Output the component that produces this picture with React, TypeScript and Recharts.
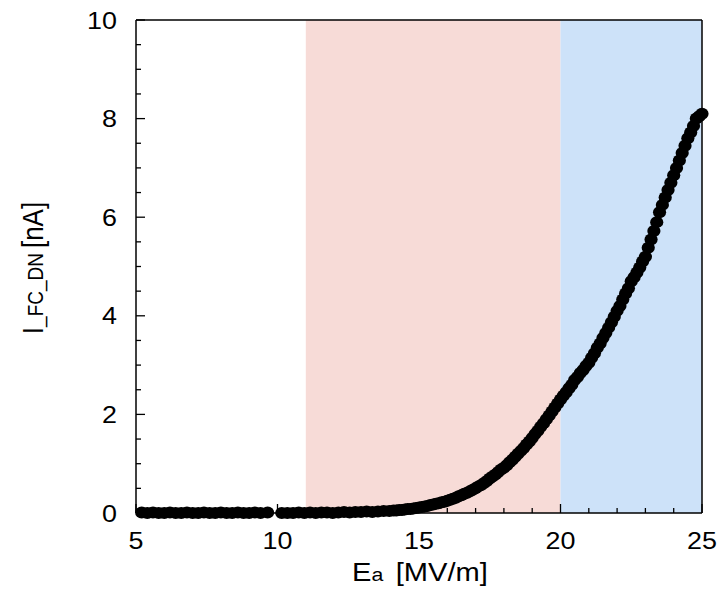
import { ScatterChart, Scatter, XAxis, YAxis, ReferenceArea } from "recharts";

// measured points, field strength in MV/m and current in nA
const LOW_FIELD = [
  5.2, 5.4, 5.6, 5.8, 6.0, 6.2, 6.4, 6.6, 6.8, 7.0, 7.2, 7.4, 7.6, 7.8, 8.0, 8.2, 8.4, 8.6, 8.8, 9.0, 9.2, 9.4, 9.65,
  10.15, 10.35, 10.55, 10.75, 10.95, 11.15, 11.35, 11.55, 11.75, 11.95, 12.15, 12.35, 12.55, 12.75, 12.95, 13.15,
  13.35, 13.55, 13.75, 13.95,
];
const LOW_CURRENT = [
  0.01, 0, 0.01, 0, 0, 0.01, 0, 0, 0.01, 0, 0, 0.01, 0, 0, 0.01, 0, 0, 0.01, 0, 0, 0.01, 0, 0.01,
  0, 0, 0, 0.01, 0, 0.01, 0, 0.01, 0.01, 0, 0.01, 0.02, 0.01, 0.02, 0.02, 0.03, 0.02, 0.03, 0.04, 0.04,
];
const HIGH_FIELD = [
  14.1, 14.2, 14.3, 14.4, 14.5, 14.6, 14.7, 14.8, 14.9, 15.0,
  15.1, 15.2, 15.3, 15.4, 15.5, 15.6, 15.7, 15.8, 15.9, 16.0,
  16.1, 16.2, 16.3, 16.4, 16.5, 16.6, 16.7, 16.8, 16.9, 17.0,
  17.1, 17.2, 17.3, 17.4, 17.5, 17.6, 17.7, 17.8, 17.9, 18.0,
  18.1, 18.2, 18.3, 18.4, 18.5, 18.6, 18.7, 18.8, 18.9, 19.0,
  19.1, 19.2, 19.3, 19.4, 19.5, 19.6, 19.7, 19.8, 19.9, 20.0,
  20.1, 20.2, 20.3, 20.4, 20.5, 20.6, 20.7, 20.8, 20.9, 21.0,
  21.1, 21.2, 21.3, 21.4, 21.5, 21.6, 21.7, 21.8, 21.9, 22.0,
  22.1, 22.2, 22.3, 22.4, 22.5, 22.6, 22.7, 22.8, 22.9, 23.0,
  23.1, 23.2, 23.3, 23.4, 23.5, 23.6, 23.7, 23.8, 23.9, 24.0,
  24.1, 24.2, 24.3, 24.4, 24.5, 24.6, 24.7, 24.8, 24.9, 25.0,
];
const HIGH_CURRENT = [
  0.05, 0.05, 0.06, 0.06, 0.07, 0.08, 0.08, 0.09, 0.1, 0.11,
  0.12, 0.13, 0.14, 0.16, 0.17, 0.19, 0.2, 0.22, 0.23, 0.25,
  0.27, 0.29, 0.31, 0.34, 0.36, 0.39, 0.41, 0.44, 0.47, 0.5,
  0.54, 0.57, 0.61, 0.65, 0.7, 0.74, 0.78, 0.83, 0.88, 0.92,
  0.97, 1.03, 1.08, 1.14, 1.2, 1.26, 1.32, 1.39, 1.45, 1.52,
  1.6, 1.67, 1.75, 1.82, 1.9, 1.98, 2.06, 2.14, 2.22, 2.3,
  2.38, 2.45, 2.53, 2.6, 2.7, 2.76, 2.84, 2.9, 2.98, 3.05,
  3.15, 3.24, 3.35, 3.44, 3.55, 3.65, 3.76, 3.87, 3.98, 4.1,
  4.2, 4.33, 4.45, 4.56, 4.7, 4.78, 4.88, 4.98, 5.1, 5.2,
  5.38, 5.55, 5.72, 5.9, 6.1, 6.25, 6.4, 6.55, 6.7, 6.85,
  7.0, 7.15, 7.3, 7.45, 7.6, 7.72, 7.85, 8.0, 8.05, 8.1,
];

const X_TICKS = [5, 6, 7, 8, 9, 10, 11, 12, 13, 14, 15, 16, 17, 18, 19, 20, 21, 22, 23, 24, 25];
const Y_TICKS = [0, 0.5, 1, 1.5, 2, 2.5, 3, 3.5, 4, 4.5, 5, 5.5, 6, 6.5, 7, 7.5, 8, 8.5, 9, 9.5, 10];
const PINK_BAND = [11, 20];
const BLUE_BAND = [20, 25];

const FONT = "'Liberation Sans', Arial, Helvetica, sans-serif";
const STRETCH = 1.12;
const MAJOR = 9;
const MINOR = 5;

const points = [
  ...LOW_FIELD.map((e, i) => ({ e, i: LOW_CURRENT[i] })),
  ...HIGH_FIELD.map((e, i) => ({ e, i: HIGH_CURRENT[i] })),
];

function BottomTick({ x, y, payload }: any) {
  const major = payload.value % 5 === 0;
  return (
    <g>
      <line x1={x} x2={x} y1={y} y2={y - (major ? MAJOR : MINOR)} stroke="#000" strokeWidth={1.3} />
      {major && (
        <text
          transform={`translate(${x},${y + 36}) scale(${STRETCH},1)`}
          textAnchor="middle"
          fontSize={24}
          fontFamily={FONT}
          fill="#000"
        >
          {payload.value}
        </text>
      )}
    </g>
  );
}

function TopTick({ x, y, payload }: any) {
  const major = payload.value % 5 === 0;
  return <line x1={x} x2={x} y1={y} y2={y + (major ? MAJOR : MINOR)} stroke="#000" strokeWidth={1.3} />;
}

function LeftTick({ x, y, payload }: any) {
  const major = payload.value % 2 === 0;
  return (
    <g>
      <line x1={x} x2={x + (major ? MAJOR : MINOR)} y1={y} y2={y} stroke="#000" strokeWidth={1.3} />
      {major && (
        <text
          transform={`translate(${x - 19},${y + 8.5}) scale(${STRETCH},1)`}
          textAnchor="end"
          fontSize={24}
          fontFamily={FONT}
          fill="#000"
        >
          {payload.value}
        </text>
      )}
    </g>
  );
}

function RightTick({ x, y, payload }: any) {
  const major = payload.value % 2 === 0;
  return <line x1={x} x2={x - (major ? MAJOR : MINOR)} y1={y} y2={y} stroke="#000" strokeWidth={1.3} />;
}

const axisLine = { stroke: "#000", strokeWidth: 1.5 };

export default function App() {
  return (
    <div style={{ position: "absolute", left: 0, top: 0, width: 718, height: 589, background: "#fff" }}>
      <svg
        width={718}
        height={589}
        style={{ position: "absolute", left: 0, top: 0, zIndex: 0 }}
      >
        <text
          transform={`translate(43,268) scale(${STRETCH},1) rotate(-90)`}
          textAnchor="middle"
          fontFamily={FONT}
          fill="#000"
        >
          <tspan fontSize={26}>I</tspan>
          <tspan fontSize={19}>_FC_DN</tspan>
          <tspan fontSize={26} dx={5}>[nA]</tspan>
        </text>
        <text
          transform={`translate(420,581) scale(${STRETCH},1)`}
          textAnchor="middle"
          fontFamily={FONT}
          fill="#000"
        >
          <tspan fontSize={26}>E</tspan>
          <tspan fontSize={19}>a</tspan>
          <tspan fontSize={26} dx={11}>[MV/m]</tspan>
        </text>
      </svg>
      <div style={{ position: "absolute", left: 0, top: 0, zIndex: 1 }}>
        <ScatterChart width={718} height={589} margin={{ top: 19, right: 15, bottom: 0, left: 0 }}>
          <ReferenceArea
            xAxisId="b"
            yAxisId="l"
            x1={PINK_BAND[0]}
            x2={PINK_BAND[1]}
            y1={0}
            y2={10}
            fill="#f7dbd7"
            fillOpacity={1}
            stroke="none"
          />
          <ReferenceArea
            xAxisId="b"
            yAxisId="l"
            x1={BLUE_BAND[0]}
            x2={BLUE_BAND[1]}
            y1={0}
            y2={10}
            fill="#cde2f9"
            fillOpacity={1}
            stroke="none"
          />
          <XAxis
            xAxisId="b"
            dataKey="e"
            type="number"
            domain={[5, 25]}
            ticks={X_TICKS}
            interval={0}
            orientation="bottom"
            height={76}
            tickSize={0}
            tickMargin={0}
            tickLine={false}
            axisLine={axisLine}
            tick={BottomTick}
          />
          <XAxis
            xAxisId="t"
            dataKey="e"
            type="number"
            domain={[5, 25]}
            ticks={X_TICKS}
            interval={0}
            orientation="top"
            height={1}
            tickSize={0}
            tickMargin={0}
            tickLine={false}
            axisLine={axisLine}
            tick={TopTick}
          />
          <YAxis
            yAxisId="l"
            dataKey="i"
            type="number"
            domain={[0, 10]}
            ticks={Y_TICKS}
            interval={0}
            orientation="left"
            width={136}
            tickSize={0}
            tickMargin={0}
            tickLine={false}
            axisLine={axisLine}
            tick={LeftTick}
          />
          <YAxis
            yAxisId="r"
            dataKey="i"
            type="number"
            domain={[0, 10]}
            ticks={Y_TICKS}
            interval={0}
            orientation="right"
            width={1}
            tickSize={0}
            tickMargin={0}
            tickLine={false}
            axisLine={axisLine}
            tick={RightTick}
          />
          <Scatter
            xAxisId="b"
            yAxisId="l"
            data={points}
            isAnimationActive={false}
            shape={(p: any) => <ellipse cx={p.cx} cy={p.cy} rx={6.6} ry={6} fill="#000" />}
          />
        </ScatterChart>
      </div>
    </div>
  );
}
